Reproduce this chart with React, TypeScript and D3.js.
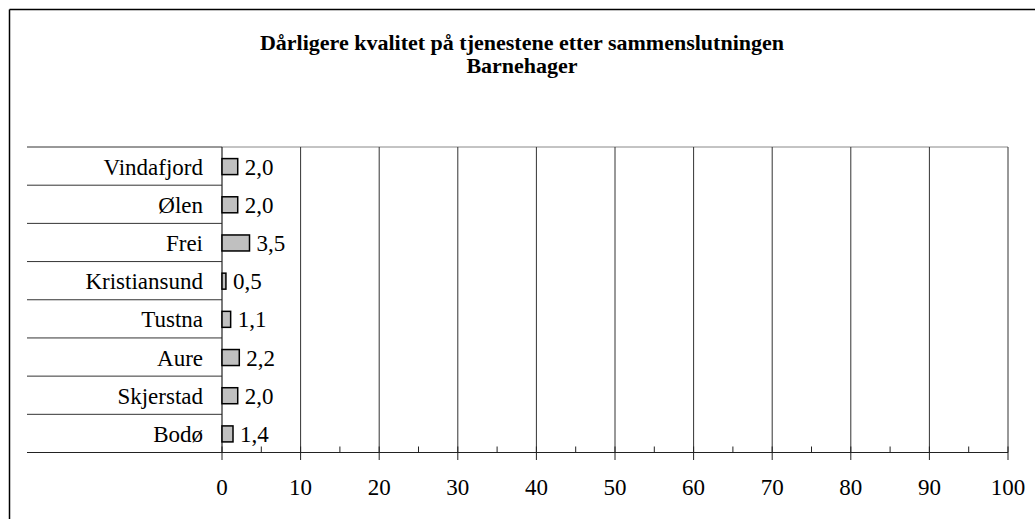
import React from "react";
import * as d3 from "d3";

const categories = ["Vindafjord", "Ølen", "Frei", "Kristiansund", "Tustna", "Aure", "Skjerstad", "Bodø"];
const values = [2.0, 2.0, 3.5, 0.5, 1.1, 2.2, 2.0, 1.4];
const majorTicks = [0, 10, 20, 30, 40, 50, 60, 70, 80, 90, 100];
const minorTicks = [5, 15, 25, 35, 45, 55, 65, 75, 85, 95];
const titleLines = ["Dårligere kvalitet på tjenestene etter sammenslutningen", "Barnehager"];

const width = 1035;
const height = 519;
const font = "Liberation Serif, DejaVu Serif, Noto Serif";

export default function App() {
  const left = 222;
  const right = 1008;
  const top = 147;
  const bottom = 452.5;
  const labelLeft = 27;

  const x = d3.scaleLinear().domain([0, 100]).range([left, right]);
  const y = d3.scaleBand().domain(categories).range([top, bottom]).paddingInner(0).paddingOuter(0);
  const barH = 16;
  const fmt = (v: number) => d3.format(".1f")(v).replace(".", ",");

  return (
    <svg
      width={width}
      height={height}
      style={{ position: "absolute", left: 0, top: 0, background: "#fff" }}
    >
      {/* outer frame (cropped at right/bottom) */}
      <line x1={9.5} y1={9.5} x2={width} y2={9.5} stroke="#000" strokeWidth={1.5} />
      <line x1={9.5} y1={9.5} x2={9.5} y2={height} stroke="#000" strokeWidth={1.5} />

      {titleLines.map((t, i) => (
        <text
          key={t}
          x={522}
          y={50 + i * 23}
          textAnchor="middle"
          style={{ fontFamily: font }}
          fontWeight="bold"
          fontSize={22}
          fill="#000"
        >
          {t}
        </text>
      ))}

      {/* plot top border */}
      <line x1={left} y1={top} x2={right} y2={top} stroke="#888" strokeWidth={1} />

      {/* gridlines */}
      {majorTicks.slice(1).map((t) => (
        <line key={"g" + t} x1={x(t)} x2={x(t)} y1={top} y2={bottom} stroke="#333" strokeWidth={1} />
      ))}

      {/* category separators */}
      {categories.map((c) => (
        <line
          key={"s" + c}
          x1={labelLeft}
          x2={left}
          y1={y(c)!}
          y2={y(c)!}
          stroke="#333"
          strokeWidth={1}
        />
      ))}
      <line x1={labelLeft} x2={right} y1={bottom} y2={bottom} stroke="#222" strokeWidth={1.2} />

      {/* vertical axis */}
      <line x1={left} x2={left} y1={top} y2={bottom} stroke="#222" strokeWidth={1.2} />

      {/* ticks */}
      {majorTicks.map((t) => (
        <line key={"mt" + t} x1={x(t)} x2={x(t)} y1={bottom - 6} y2={bottom + 7.5} stroke="#222" strokeWidth={1} />
      ))}
      {minorTicks.map((t) => (
        <line key={"nt" + t} x1={x(t)} x2={x(t)} y1={bottom - 6} y2={bottom} stroke="#222" strokeWidth={1} />
      ))}
      {majorTicks.map((t) => (
        <text
          key={"tl" + t}
          x={x(t)}
          y={495}
          textAnchor="middle"
          style={{ fontFamily: font }}
          fontSize={23}
          fill="#000"
        >
          {t}
        </text>
      ))}

      {/* bars */}
      {categories.map((c, i) => {
        const cy = y(c)! + y.bandwidth() / 2 + 0.5;
        return (
          <g key={"b" + c}>
            <rect
              x={x(0)}
              y={cy - barH / 2}
              width={x(values[i]) - x(0)}
              height={barH}
              fill="#c0c0c0"
              stroke="#000"
              strokeWidth={1.5}
            />
            <text
              x={x(values[i]) + 7}
              y={cy + 8}
              style={{ fontFamily: font }}
              fontSize={23}
              fill="#000"
            >
              {fmt(values[i])}
            </text>
            <text
              x={203}
              y={cy + 8}
              textAnchor="end"
              style={{ fontFamily: font }}
              fontSize={23}
              fill="#000"
            >
              {c}
            </text>
          </g>
        );
      })}
    </svg>
  );
}
